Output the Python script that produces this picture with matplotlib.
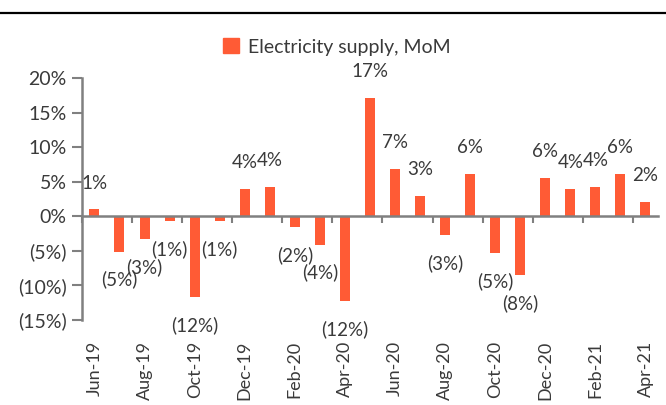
import matplotlib
matplotlib.use('Agg')
import matplotlib.pyplot as plt
from matplotlib.lines import Line2D
from matplotlib.patches import Patch

months = ['Jun-19', 'Jul-19', 'Aug-19', 'Sep-19', 'Oct-19', 'Nov-19', 'Dec-19',
          'Jan-20', 'Feb-20', 'Mar-20', 'Apr-20', 'May-20', 'Jun-20', 'Jul-20',
          'Aug-20', 'Sep-20', 'Oct-20', 'Nov-20', 'Dec-20', 'Jan-21', 'Feb-21',
          'Mar-21', 'Apr-21']
supply_mom = [1.0, -5.1, -3.3, -0.7, -11.7, -0.7, 3.9, 4.2, -1.6, -4.1, -12.3,
              17.2, 6.8, 3.0, -2.75, 6.1, -5.3, -8.5, 5.6, 3.9, 4.2, 6.1, 2.1]
y_ticks = [-15, -10, -5, 0, 5, 10, 15, 20]
series_name = 'Electricity supply, MoM'

BAR = '#FF5B35'
TXT = '#3A3A3A'
AXC = '#808080'

plt.rcParams['font.family'] = ['Lato', 'DejaVu Sans']


def pct(v):
    r = int(round(abs(v)))
    return f'({r}%)' if v < 0 else f'{r}%'


fig = plt.figure(figsize=(6.66, 4.05), dpi=100)
ax = fig.add_axes([0.123, 0.21, 0.865, 0.597])

x = list(range(len(months)))
ax.bar(x, supply_mom, width=0.4, color=BAR, zorder=2)

for xi, v in zip(x, supply_mom):
    off = 19 if v >= 0 else -20
    ax.annotate(pct(v), (xi, v), xytext=(0, off), textcoords='offset points',
                ha='center', va='center', fontsize=13.5, color=TXT)

ax.set_xlim(-0.5, len(months) - 0.5)
ax.set_ylim(-15, 20)
ax.set_yticks(y_ticks)
ax.set_yticklabels([pct(t) for t in y_ticks], fontsize=14, color=TXT)
ax.tick_params(axis='y', direction='out', length=7, width=1.5, color=AXC, pad=4)

for s in ['top', 'right']:
    ax.spines[s].set_visible(False)
ax.spines['left'].set_color(AXC)
ax.spines['left'].set_linewidth(1.8)
ax.spines['bottom'].set_position(('data', 0))
ax.spines['bottom'].set_color(AXC)
ax.spines['bottom'].set_linewidth(1.8)
ax.spines['bottom'].set_zorder(3)

# boundary ticks on zero line
ax.set_xticks([i - 0.5 for i in range(0, len(months), 2)])
ax.set_xticklabels([])
ax.tick_params(axis='x', direction='out', length=5, width=1.5, color=AXC)

# month labels at the bottom
sec = ax.secondary_xaxis('bottom')
sec.set_xticks(x[::2])
sec.set_xticklabels(months[::2], rotation=90, fontsize=13, color=TXT)
sec.tick_params(length=0, pad=15)
sec.spines['bottom'].set_visible(False)

leg = fig.legend(handles=[Patch(color=BAR, label=series_name)], loc='center',
                 bbox_to_anchor=(0.506, 0.884), frameon=False, fontsize=14,
                 handlelength=0.8, handleheight=0.8, handletextpad=0.5)
for t in leg.get_texts():
    t.set_color(TXT)

fig.add_artist(Line2D([0, 1], [0.968, 0.968], color='black', lw=1.6,
                      transform=fig.transFigure))

fig.savefig('out.png', dpi=100)
